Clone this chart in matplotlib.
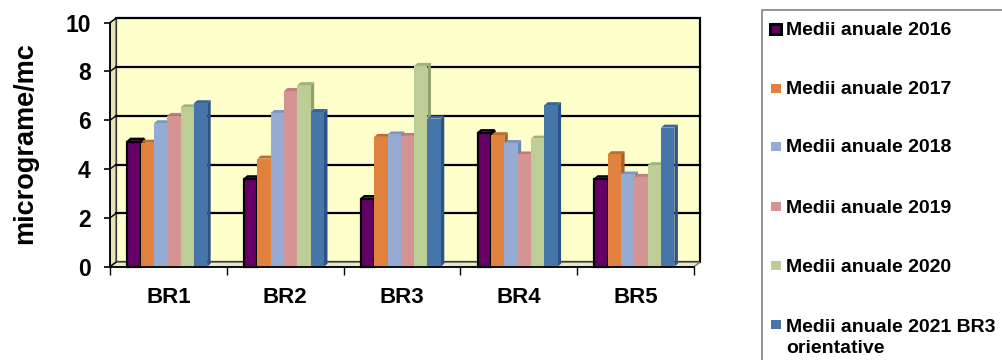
import matplotlib
matplotlib.use("Agg")
import matplotlib.pyplot as plt
from matplotlib.patches import Polygon, Rectangle

plt.rcParams['font.family'] = ['Liberation Sans', 'DejaVu Sans']
plt.rcParams['font.weight'] = 'bold'

categories = ["BR1", "BR2", "BR3", "BR4", "BR5"]
series_labels = ["Medii anuale 2016", "Medii anuale 2017", "Medii anuale 2018",
                 "Medii anuale 2019", "Medii anuale 2020",
                 "Medii anuale 2021 BR3\norientative"]
v2016 = [5.12, 3.58, 2.77, 5.47, 3.58]
v2017 = [5.08, 4.43, 5.32, 5.39, 4.61]
v2018 = [5.88, 6.30, 5.42, 5.07, 3.78]
v2019 = [6.18, 7.20, 5.36, 4.60, 3.68]
v2020 = [6.53, 7.44, 8.23, 5.25, 4.16]
v2021 = [6.70, 6.34, 6.07, 6.62, 5.70]
series = [v2016, v2017, v2018, v2019, v2020, v2021]
yticks = [0, 2, 4, 6, 8, 10]
ylabel = "micrograme/mc"

front = ["#660066", "#E0823D", "#95ABD4", "#D49494", "#BCCE96", "#4675AA"]
side = ["#3E003E", "#A85F2A", "#6F86B0", "#A86C6C", "#8FA26A", "#2E5382"]
top = ["#8A1A8A", "#C06A30", "#7E96C2", "#BC7E7E", "#9FB27A", "#3A6598"]

W, H = 1002, 360
fig = plt.figure(figsize=(W / 100, H / 100), dpi=100)
ax_l, ax_r, ax_t, ax_b = 110, 694, 22.7, 266.7
ax = fig.add_axes([ax_l / W, (H - ax_b) / H, (ax_r - ax_l) / W, (ax_b - ax_t) / H])
ax.set_xlim(-0.5, len(categories) - 0.5)
ax.set_ylim(0, 10)
ax.patch.set_visible(False)
for s in ax.spines.values():
    s.set_visible(False)

sx = (len(categories)) / (ax_r - ax_l)   # data per px x
sy = 10 / (ax_b - ax_t)                  # data per px y
wdx, wdy = 6 * sx, 4.5 * sy
bdx, bdy = 3.5 * sx, 3.0 * sy
x0, x1 = -0.5, len(categories) - 0.5

# back wall
ax.add_patch(Rectangle((x0 + wdx, wdy), x1 - x0, 10, facecolor="#FFFFCC",
                       edgecolor="black", lw=1.6, zorder=0, clip_on=False))
# left side wall
ax.add_patch(Polygon([(x0, 0), (x0 + wdx, wdy), (x0 + wdx, 10 + wdy), (x0, 10)],
                     closed=True, facecolor="#E4E4B8", edgecolor="#555555", lw=1,
                     zorder=0.2, clip_on=False))
# floor
ax.add_patch(Polygon([(x0, 0), (x1, 0), (x1 + wdx, wdy), (x0 + wdx, wdy)],
                     closed=True, facecolor="#E8E8C4", edgecolor="#777777", lw=1,
                     zorder=0.2, clip_on=False))
# gridlines on back wall and side wall
for yv in yticks[1:-1]:
    ax.plot([x0 + wdx, x1 + wdx], [yv + wdy, yv + wdy], color="black", lw=1.6,
            zorder=0.5, clip_on=False)
for yv in yticks:
    ax.plot([x0, x0 + wdx], [yv, yv + wdy], color="black", lw=1.0,
            zorder=0.5, clip_on=False)

# bars
bw = 0.114
shift = -0.01
for j, vals in enumerate(series):
    xs = [i + (j - 2.5) * bw + shift for i in range(len(categories))]
    ec = "black" if j == 0 else "none"
    lw = 1.6 if j == 0 else 0
    bars = ax.bar(xs, vals, width=bw, color=front[j], edgecolor=ec, linewidth=lw,
                  zorder=3 + j * 0.01, clip_on=False)
    for r in bars:
        bx, bwid, bh = r.get_x(), r.get_width(), r.get_height()
        ax.add_patch(Polygon([(bx + bwid, 0), (bx + bwid + bdx, bdy),
                              (bx + bwid + bdx, bh + bdy), (bx + bwid, bh)],
                             closed=True, facecolor=side[j],
                             edgecolor=ec, lw=lw, zorder=2.9 + j * 0.01, clip_on=False))
        ax.add_patch(Polygon([(bx, bh), (bx + bwid, bh), (bx + bwid + bdx, bh + bdy),
                              (bx + bdx, bh + bdy)],
                             closed=True, facecolor=top[j],
                             edgecolor=ec, lw=lw, zorder=2.9 + j * 0.01, clip_on=False))

# front axes lines
ax.plot([x0, x0], [0, 10], color="black", lw=1.3, zorder=5, clip_on=False)
ax.plot([x0, x1], [0, 0], color="black", lw=1.3, zorder=5, clip_on=False)

ax.set_yticks(yticks)
ax.set_yticklabels([str(t) for t in yticks], fontsize=16.5, fontweight="bold")
ax.tick_params(axis="y", length=4, width=1.2, pad=10, direction="out")
ax.set_xticks(range(len(categories)))
ax.set_xticklabels(categories, fontsize=16, fontweight="bold")
ax.tick_params(axis="x", which="major", length=0, pad=14.5)
ax.set_xticks([i - 0.5 for i in range(len(categories) + 1)], minor=True)
ax.tick_params(axis="x", which="minor", length=6, width=1.0, direction="out")

fig.text(25 / W, 1 - 143 / H, ylabel, rotation=90, ha="center", va="center",
         fontsize=19.5, fontweight="bold")

# legend (manual), frame runs off the right and bottom edges
fig.patches.append(Rectangle((762 / W, -0.2), 0.3, 1.2 - 10 / H, transform=fig.transFigure,
                             facecolor="white", edgecolor="#808080", lw=1.2))
first_baselines = [35, 94, 152.3, 212.7, 271.7, 330]
for j, lab in enumerate(series_labels):
    yb = first_baselines[j]
    yc = yb - 6.0
    if j == 0:
        fig.patches.append(Rectangle((770 / W, 1 - (yc + 5) / H), 11 / W, 10 / H,
                                     transform=fig.transFigure, facecolor=front[j],
                                     edgecolor="black", lw=2.2))
    else:
        fig.patches.append(Rectangle((771 / W, 1 - (yc + 4.5) / H), 10 / W, 9 / H,
                                     transform=fig.transFigure, facecolor=front[j],
                                     edgecolor="none"))
    nlines = lab.count("\n")
    fig.text(786 / W, 1 - (yb + nlines * 22.7) / H, lab, ha="left", va="baseline",
             fontsize=14, fontweight="bold", linespacing=1.3)

fig.savefig("out.png", dpi=100)
